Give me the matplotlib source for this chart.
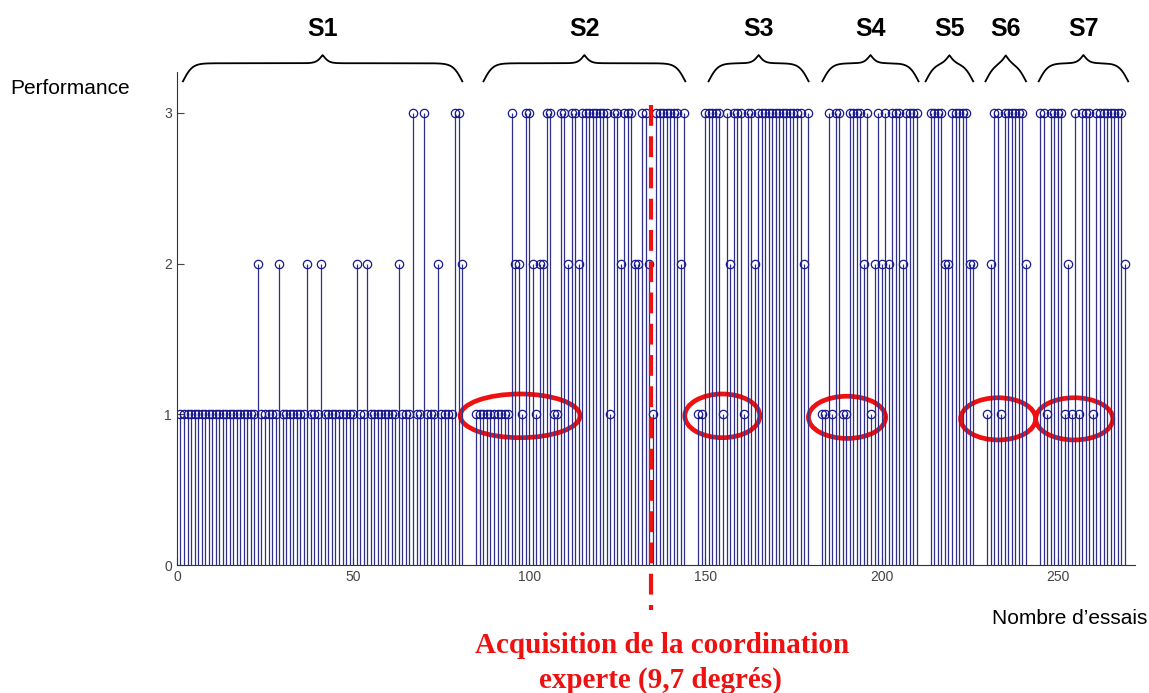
import numpy as np
import matplotlib.pyplot as plt
from matplotlib.patches import Ellipse

plt.rcParams['font.family'] = ['Liberation Sans', 'DejaVu Sans']

# -------------------------------------------------------------------
# performance per trial (1, 2 or 3), one list per session
s1_start = 1
s1 = [1, 1, 1, 1, 1, 1, 1, 1, 1, 1,
      1, 1, 1, 1, 1, 1, 1, 1, 1, 1,
      1, 1, 2, 1, 1, 1, 1, 1, 2, 1,
      1, 1, 1, 1, 1, 1, 2, 1, 1, 1,
      2, 1, 1, 1, 1, 1, 1, 1, 1, 1,
      2, 1, 1, 2, 1, 1, 1, 1, 1, 1,
      1, 1, 2, 1, 1, 1, 3, 1, 1, 3,
      1, 1, 1, 2, 1, 1, 1, 1, 3, 3, 2]
s2_start = 85
s2 = [1, 1, 1, 1, 1, 1, 1, 1, 1, 1,
      3, 2, 2, 1, 3, 3, 2, 1, 2, 2,
      3, 3, 1, 1, 3, 3, 2, 3, 3, 2,
      3, 3, 3, 3, 3, 3, 3, 3, 1, 3,
      3, 2, 3, 3, 3, 2, 2, 3, 3, 2,
      1, 3, 3, 3, 3, 3, 3, 3, 2, 3]
s3_start = 148
s3 = [1, 1, 3, 3, 3, 3, 3, 1, 3, 2,
      3, 3, 3, 1, 3, 3, 2, 3, 3, 3,
      3, 3, 3, 3, 3, 3, 3, 3, 3, 3,
      2, 3]
s4_start = 183
s4 = [1, 1, 3, 1, 3, 3, 1, 1, 3, 3,
      3, 3, 2, 3, 1, 2, 3, 2, 3, 2,
      3, 3, 3, 2, 3, 3, 3, 3]
s5_start = 214
s5 = [3, 3, 3, 3, 2, 2, 3, 3, 3, 3, 3, 2, 2]
s6_start = 230
s6 = [1, 2, 3, 3, 1, 3, 3, 3, 3, 3, 3, 2]
s7_start = 245
s7 = [3, 3, 1, 3, 3, 3, 3, 1, 2, 1,
      3, 1, 3, 3, 3, 1, 3, 3, 3, 3,
      3, 3, 3, 3, 2]

session_names = ["S1", "S2", "S3", "S4", "S5", "S6", "S7"]
session_starts = [s1_start, s2_start, s3_start, s4_start, s5_start, s6_start, s7_start]
session_values = [s1, s2, s3, s4, s5, s6, s7]
# extent of the braces drawn above each session (in trials)
brace_spans = [(1.7, 81), (87, 144.3), (150.9, 179.3), (183.2, 210.5),
               (212.5, 226), (229.5, 241), (244.6, 270)]
# red ellipses around the "1" trials
ellipses = [(97.4, 0.99, 34, 0.29), (154.8, 0.99, 21.3, 0.29), (190.2, 0.98, 21.9, 0.28),
            (233.1, 0.97, 21.3, 0.28), (254.7, 0.97, 21.9, 0.28)]
expert_trial = 134.7

x = np.concatenate([np.arange(st, st + len(v)) for st, v in zip(session_starts, session_values)])
y = np.concatenate([np.array(v, dtype=float) for v in session_values])

# -------------------------------------------------------------------
fig = plt.figure(figsize=(11.49, 6.93), dpi=100)
ax = fig.add_axes([0.154, 0.1847, 0.834, 0.711])

ax.vlines(x, 0, y, color='#30308a', lw=0.9)
ax.plot(x, y, 'o', mfc='none', mec='#1a1a90', ms=6, mew=0.9, ls='none')

ax.set_xlim(0, 272)
ax.set_ylim(0, 3.27)
ax.set_xticks([0, 50, 100, 150, 200, 250])
ax.set_yticks([0, 1, 2, 3])
ax.tick_params(direction='in', length=5, labelsize=10, colors='#444444')
for side in ['top', 'right']:
    ax.spines[side].set_visible(False)
for side in ['left', 'bottom']:
    ax.spines[side].set_color('#333333')


def sig(t):
    return 1 / (1 + np.exp(-t))


# braces and session labels
for name, (b1, b2) in zip(session_names, brace_spans):
    xm = (b1 + b2) / 2
    bx = np.linspace(b1, b2, 600)
    beta = 0.75
    dist_end = np.where(bx <= xm, bx - b1, b2 - bx)
    dist_mid = np.abs(bx - xm)
    up = 0.12 * (2 * sig(beta * dist_end) - 1) + 0.055 * 2 * sig(-beta * 1.5 * dist_mid)
    ax.plot(bx, 3.21 + up, color='black', lw=1.3, clip_on=False)
    ax.text(xm, 3.56, name, ha='center', va='center', fontsize=18, fontweight='bold')

for cx, cy, w, h in ellipses:
    ax.add_patch(Ellipse((cx, cy), w, h, fill=False, ec='#ee1111', lw=3.4, clip_on=False))

ax.plot([expert_trial, expert_trial], [3.05, -0.3], color='#ee1111', lw=3,
        dashes=(5, 2.5), clip_on=False)

fig.text(0.009, 0.8716, "Performance", fontsize=15, va='center', ha='left')
fig.text(0.999, 0.108, "Nombre d\u2019essais", fontsize=15, va='center', ha='right')
fig.text(0.576, 0.069, "Acquisition de la coordination", fontsize=21, color='#ee1111',
         fontweight='bold', family=['Liberation Serif', 'DejaVu Serif'], ha='center', va='center')
fig.text(0.575, 0.018, "experte (9,7 degr\u00e9s)", fontsize=21, color='#ee1111',
         fontweight='bold', family=['Liberation Serif', 'DejaVu Serif'], ha='center', va='center')

plt.savefig("out.png", dpi=100)
